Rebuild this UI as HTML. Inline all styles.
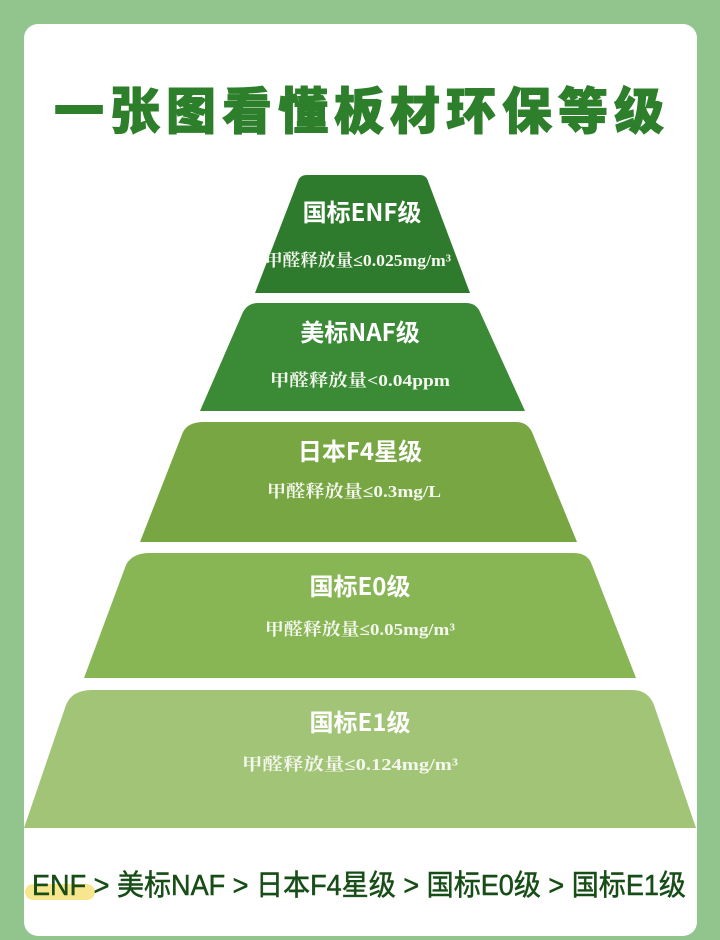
<!DOCTYPE html>
<html><head><meta charset="utf-8"><style>
html,body{margin:0;padding:0;width:720px;height:940px;overflow:hidden;background:#92c48e;}
svg{display:block}
</style></head><body>
<svg width="720" height="940" viewBox="0 0 720 940" xmlns="http://www.w3.org/2000/svg">
<rect x="0" y="0" width="720" height="940" fill="#92c48e"/>
<rect x="24" y="24" width="673" height="912" rx="14" fill="#ffffff"/>
<text x="359" y="129" text-anchor="middle" font-family="'Noto Sans CJK SC','WenQuanYi Zen Hei',sans-serif" font-weight="900" font-size="50" fill="#2d7f2b" stroke="#2d7f2b" stroke-width="1" textLength="610" lengthAdjust="spacing">一张图看懂板材环保等级</text>
<g>
<path d="M307,175 L420,175 Q426,175 428,181 L470,293 L255,293 L298,181 Q300,175 307,175 Z" fill="#2f7b2d"/>
<path d="M258,303 L466,303 Q476,303 480,312 L525,411 L200,411 L243,312 Q248,303 258,303 Z" fill="#3a8a36"/>
<path d="M204,422 L516,422 Q527,422 532,432 L577,542 L140,542 L183,432 Q188,422 204,422 Z" fill="#77a642"/>
<path d="M150,553 L574,553 Q588,553 592,565 L636,678 L84,678 L126,565 Q132,553 150,553 Z" fill="#88b655"/>
<path d="M92,690 L632,690 Q648,690 654,705 L696,828 L24,828 L66,705 Q72,690 92,690 Z" fill="#a2c477"/>
</g>
<g font-family="'Noto Sans CJK SC','WenQuanYi Zen Hei',sans-serif" font-weight="bold" fill="#ffffff" text-anchor="middle">
<text x="362" y="221" font-size="24">国标ENF级</text>
<text x="360" y="341" font-size="24">美标NAF级</text>
<text x="360" y="460" font-size="24">日本F4星级</text>
<text x="360" y="595" font-size="24">国标E0级</text>
<text x="360" y="731" font-size="24">国标E1级</text>
</g>
<g font-family="'Liberation Serif','Noto Serif CJK SC',serif" font-weight="bold" fill="#f4f7ee" text-anchor="middle" font-size="17">
<text x="358" y="266" textLength="186" lengthAdjust="spacingAndGlyphs">甲醛释放量≤0.025mg/m³</text>
<text x="360" y="386" textLength="180" lengthAdjust="spacingAndGlyphs">甲醛释放量&lt;0.04ppm</text>
<text x="354" y="497" textLength="174" lengthAdjust="spacingAndGlyphs">甲醛释放量≤0.3mg/L</text>
<text x="360" y="635" textLength="190" lengthAdjust="spacingAndGlyphs">甲醛释放量≤0.05mg/m³</text>
<text x="350" y="770" textLength="216" lengthAdjust="spacingAndGlyphs">甲醛释放量≤0.124mg/m³</text>
</g>
<rect x="25" y="884" width="70" height="16" rx="8" fill="#f7e27a" opacity="0.85"/>
<text x="359" y="895" text-anchor="middle" font-family="'Liberation Sans','Noto Sans CJK SC',sans-serif" font-size="29" fill="#174d17" stroke="#174d17" stroke-width="0.5" textLength="654" lengthAdjust="spacingAndGlyphs">ENF &gt; 美标NAF &gt; 日本F4星级 &gt; 国标E0级 &gt; 国标E1级</text>
</svg>
</body></html>
